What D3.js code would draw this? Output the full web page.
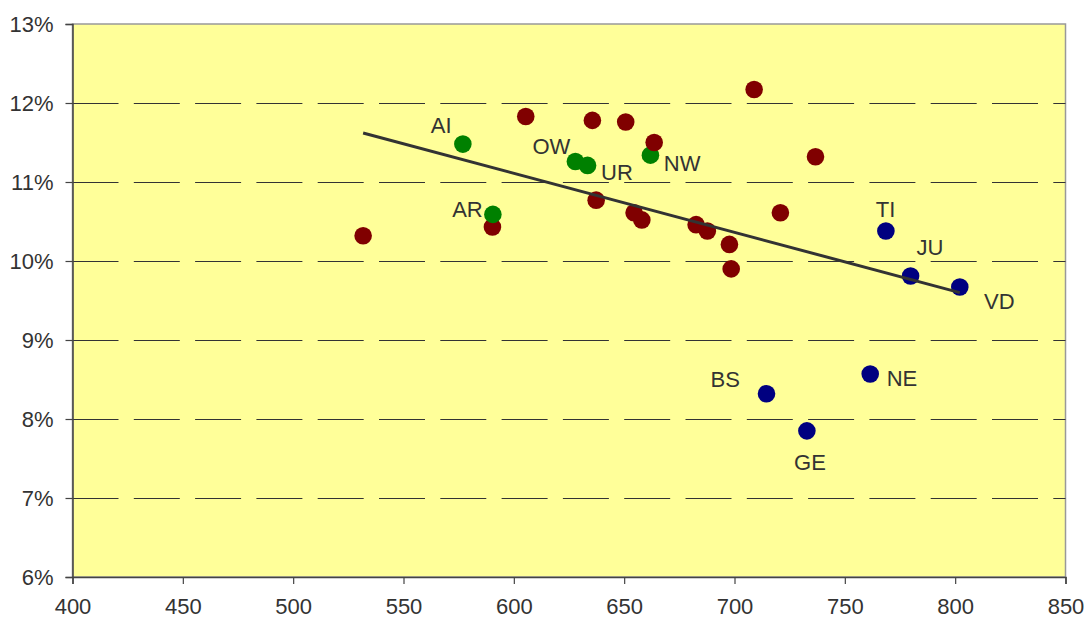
<!DOCTYPE html>
<html>
<head>
<meta charset="utf-8">
<script src="https://cdn.jsdelivr.net/npm/d3@7"></script>
<style>
  html, body { margin: 0; padding: 0; background: #ffffff; }
  svg { display: block; font-family: "Liberation Sans", Arial, sans-serif; }
</style>
</head>
<body>
<svg id="chart" width="1087" height="618"></svg>
<script>
// ---- Data ----
const xTicks = [400, 450, 500, 550, 600, 650, 700, 750, 800, 850];
const yTicks = [6, 7, 8, 9, 10, 11, 12, 13];

// Unlabelled (dark red) cantons: [x, y%]
const redX = [531.7, 590.3, 605.4, 635.6, 650.7, 637.3, 654.5, 658.0, 682.6, 687.7, 697.7, 698.5, 720.8, 736.7, 708.9];
const redY = [10.32, 10.43, 11.83, 11.78, 11.76, 10.77, 10.61, 10.52, 10.46, 10.38, 10.21, 9.90, 10.61, 11.32, 12.17];

// Green labelled cantons
const greenNames = ["AI", "AR", "OW", "UR", "NW"];
const greenX = [576.9, 590.5, 627.9, 633.4, 661.9];
const greenY = [11.48, 10.59, 11.26, 11.21, 11.34];

// Red point drawn after the green ones (overlaps NW)
const redLateX = [663.6];
const redLateY = [11.50];

// Blue labelled cantons
const blueNames = ["TI", "JU", "VD", "BS", "NE", "GE"];
const blueX = [768.6, 779.8, 802.1, 714.5, 761.5, 732.8];
const blueY = [10.38, 9.81, 9.67, 8.32, 8.57, 7.85];

// Trend line end points
const trendX = [531.7, 802.1];
const trendY = [11.62, 9.60];

// ---- Layout / style ----
const colors = { red: "#800000", green: "#008000", blue: "#000080" };
const labelOffset = {
  AI: [-21.7, -11], OW: [-24, -7.7], UR: [29.4, 14.3], NW: [31.7, 15.4], AR: [-25.4, 3],
  TI: [-0.4, -14], JU: [19.4, -21.4], VD: [39.6, 21.6], BS: [-41.3, -7], NE: [31.7, 12.4], GE: [3.1, 39.3]
};

const plotL = 72.5, plotT = 24, plotR = 1065.5, plotB = 577;
const svg = d3.select("#chart");

const x = d3.scaleLinear().domain([400, 850]).range([plotL, plotR]);
const y = d3.scaleLinear().domain([6, 13]).range([plotB, plotT]);

// plot background
svg.append("rect")
  .attr("x", plotL).attr("y", plotT)
  .attr("width", plotR - plotL).attr("height", plotB - plotT)
  .attr("fill", "#FFFF99")
  .attr("stroke", "#999999").attr("stroke-width", 1.5);

// gridlines (dashed)
svg.append("g").selectAll("line")
  .data(yTicks.filter(d => d > 6 && d < 13))
  .join("line")
  .attr("x1", plotL).attr("x2", plotR)
  .attr("y1", d => Math.round(y(d)) + 0.5).attr("y2", d => Math.round(y(d)) + 0.5)
  .attr("stroke", "#333333").attr("stroke-width", 1)
  .attr("stroke-dasharray", "46,15.3");

// axes
const yAxis = d3.axisLeft(y).tickValues(yTicks).tickFormat(d => d + "%").tickSize(7).tickPadding(12);
const xAxis = d3.axisBottom(x).tickValues(xTicks).tickFormat(d3.format("d")).tickSize(7).tickPadding(15);

const gy = svg.append("g").attr("transform", `translate(${plotL},0)`).call(yAxis);
const gx = svg.append("g").attr("transform", `translate(0,${plotB})`).call(xAxis);

[gx, gy].forEach(g => {
  g.select(".domain").attr("stroke", "#444444").attr("stroke-width", 1.5);
  g.selectAll(".tick line").attr("stroke", "#444444").attr("stroke-width", 1.2);
  g.selectAll(".tick text")
    .attr("fill", "#333333")
    .style("font-size", "22px")
    .style("font-family", "'Liberation Sans', Arial, sans-serif");
});
gy.selectAll(".tick text").attr("dy", "0.36em");
gx.selectAll(".tick text").attr("dy", "0.68em");

// points
const pts = [];
redX.forEach((v, i) => pts.push({ x: v, y: redY[i], c: colors.red }));
greenX.forEach((v, i) => pts.push({ x: v, y: greenY[i], c: colors.green, name: greenNames[i] }));
redLateX.forEach((v, i) => pts.push({ x: v, y: redLateY[i], c: colors.red }));
blueX.forEach((v, i) => pts.push({ x: v, y: blueY[i], c: colors.blue, name: blueNames[i] }));

svg.append("g").selectAll("circle")
  .data(pts)
  .join("circle")
  .attr("cx", d => x(d.x)).attr("cy", d => y(d.y))
  .attr("r", 8.8)
  .attr("fill", d => d.c);

// trend line
svg.append("path")
  .datum(trendX.map((v, i) => [v, trendY[i]]))
  .attr("d", d3.line().x(d => x(d[0])).y(d => y(d[1])))
  .attr("stroke", "#333333").attr("stroke-width", 3).attr("fill", "none");

// labels
svg.append("g").selectAll("text")
  .data(pts.filter(d => d.name))
  .join("text")
  .attr("x", d => x(d.x) + labelOffset[d.name][0])
  .attr("y", d => y(d.y) + labelOffset[d.name][1])
  .attr("text-anchor", "middle")
  .attr("fill", "#333333")
  .style("font-size", "22px")
  .text(d => d.name);
</script>
</body>
</html>
